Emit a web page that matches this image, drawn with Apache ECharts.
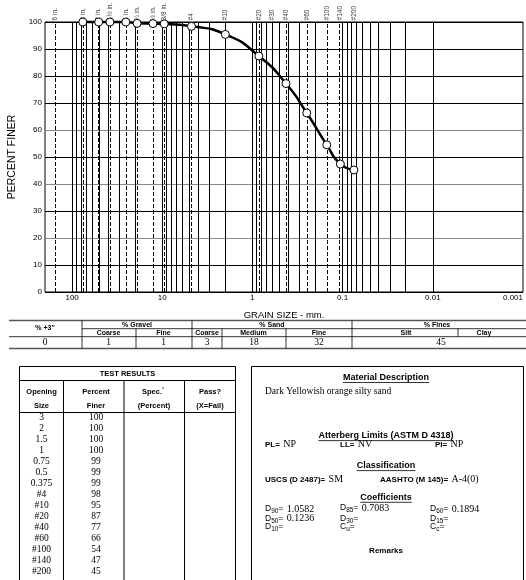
<!DOCTYPE html>
<html>
<head>
<meta charset="utf-8">
<script src="https://cdn.jsdelivr.net/npm/echarts@6/dist/echarts.min.js"></script>
<style>
  html, body { margin: 0; padding: 0; background: #fff; }
  #chart { width: 526px; height: 580px; }
</style>
</head>
<body>
<div id="chart"></div>
<script>
// sieve lines along the top (mm)
const sieveNames = ['6 in.', '3 in.', '2 in.', '1\u00bd in.', '1 in.', '\u00be in.', '\u00bd in.', '3/8 in.',
  '#4', '#10', '#20', '#30', '#40', '#60', '#100', '#140', '#200']
const sieveSizes = [152.4, 76.2, 50.8, 38.1, 25.4, 19.05, 12.7, 9.525, 4.75, 2.0, 0.85, 0.6, 0.425, 0.25, 0.15, 0.106, 0.075]

// test results
const testOpenings = ['3', '2', '1.5', '1', '0.75', '0.5', '0.375', '#4', '#10', '#20', '#40', '#60', '#100', '#140', '#200']
const testSizes = [76.2, 50.8, 38.1, 25.4, 19.05, 12.7, 9.525, 4.75, 2.0, 0.85, 0.425, 0.25, 0.15, 0.106, 0.075]
const curvePercent = [100, 100, 100, 100, 99.5, 99.4, 99.3, 98.4, 95.4, 87.4, 77.2, 66.3, 54.5, 47.4, 45.2]
const tablePercent = ['100', '100', '100', '100', '99', '99', '99', '98', '95', '87', '77', '66', '54', '47', '45']

// axis ticks
const xTickValues = [100, 10, 1, 0.1, 0.01, 0.001]
const xTickLabels = ['100', '10', '1', '0.1', '0.01', '0.001']
const gridDecades = [10, 1, 0.1, 0.01, 0.001]
const gridSteps = [1, 2, 3, 4, 5, 6, 7, 8, 9]

// grain size summary
const groupNames = ['% Gravel', '% Sand', '% Fines']
const subNames = ['Coarse', 'Fine', 'Coarse', 'Medium', 'Fine', 'Silt', 'Clay']
const sizeValues = ['0', '1', '1', '3', '18', '32', '45']

const SANS = '"Liberation Sans", Arial, sans-serif'
const SERIF = '"Liberation Serif", "Times New Roman", serif'

const gridLines = [100]
gridDecades.forEach(d => gridSteps.forEach(m => gridLines.push(d * m)))

const measureCtx = document.createElement('canvas').getContext('2d')
const measure = (t, f) => { measureCtx.font = f; return measureCtx.measureText(t).width }

const gfx = []
const hline = (x1, x2, y, w = 1, c = '#000') =>
  gfx.push({ type: 'line', silent: true, shape: { x1, y1: y, x2, y2: y }, style: { stroke: c, lineWidth: w } })
const vline = (x, y1, y2, w = 1, c = '#000') =>
  gfx.push({ type: 'line', silent: true, shape: { x1: x, y1, x2: x, y2 }, style: { stroke: c, lineWidth: w } })
const text = (x, y, t, font, align = 'center') =>
  gfx.push({ type: 'text', silent: true, x, y, style: { text: t, font, fill: '#000', align, verticalAlign: 'middle' } })
const rich = (x, y, t, richStyles) =>
  gfx.push({ type: 'text', silent: true, x, y, style: { text: t, fill: '#000', align: 'left', verticalAlign: 'middle', rich: richStyles } })

// grain size summary table
const H7 = 'bold 7px ' + SANS
hline(9, 526, 320.5, 1.5, '#555')
hline(82, 526, 328.7, 0.8)
hline(9, 526, 336.7, 0.8)
hline(9, 526, 348.5, 1.5, '#555')
vline(82, 320.5, 348.5, 0.8)
vline(192, 320.5, 348.5, 0.8)
vline(352, 320.5, 348.5, 0.8)
vline(136, 328.7, 348.5, 0.8)
vline(222, 328.7, 348.5, 0.8)
vline(286, 328.7, 348.5, 0.8)
vline(458, 328.7, 336.7, 0.8)
text(45, 328.5, '% +3"', H7)
const groupX = [137, 272, 437]
groupNames.forEach((g, i) => text(groupX[i], 324.7, g, H7))
const subX = [108.5, 163.5, 207, 253.5, 319, 406, 484]
subNames.forEach((s, i) => text(subX[i], 332.7, s, H7))
const valueX = [45, 108.5, 163.5, 207, 254, 319, 441]
sizeValues.forEach((v, i) => text(valueX[i], 342.8, v, '9.5px ' + SERIF))

// test results table
const H75 = 'bold 7.5px ' + SANS
gfx.push({ type: 'rect', silent: true, shape: { x: 19.5, y: 366.5, width: 216, height: 240 },
  style: { fill: 'none', stroke: '#000', lineWidth: 1 } })
hline(19.5, 235.5, 380.5)
hline(19.5, 235.5, 412.5)
;[63.5, 124, 184.5].forEach(x => vline(x, 380.5, 600))
text(127.5, 373.8, 'TEST RESULTS', H75)
const colX = [41.5, 96, 154, 210]
;['Opening', 'Percent', '', 'Pass?'].forEach((t, i) => t && text(colX[i], 391.7, t, H75))
rich(colX[2] - 12, 391.7, '{h|Spec.}{s|*}', {
  h: { font: H75, fill: '#000' },
  s: { font: '5px ' + SANS, fill: '#000', verticalAlign: 'top', padding: [0, 0, 4, 0] }
})
;['Size', 'Finer', '(Percent)', '(X=Fail)'].forEach((t, i) => text(colX[i], 405.7, t, H75))
testOpenings.forEach((t, i) => {
  text(colX[0], 417.5 + i * 11.03, t, '9.5px ' + SERIF)
  text(colX[1], 417.5 + i * 11.03, tablePercent[i], '9.5px ' + SERIF)
})

// material description box
gfx.push({ type: 'rect', silent: true, shape: { x: 251.5, y: 366.5, width: 272, height: 240 },
  style: { fill: 'none', stroke: '#000', lineWidth: 1 } })
const CX = 386
const heading = (t, y, u = true) => {
  const f = 'bold 9px ' + SANS
  text(CX, y, t, f)
  if (u) { const w = measure(t, f); hline(CX - w / 2, CX + w / 2, y + 4.8, 0.8) }
}
heading('Material Description', 377.7)
text(265, 391.7, 'Dark Yellowish orange silty sand', '9.5px ' + SERIF, 'left')
heading('Atterberg Limits (ASTM D 4318)', 435.8)
heading('Classification', 465.8)
heading('Coefficients', 497.5)
text(CX, 551, 'Remarks', 'bold 8px ' + SANS)

const rs = {
  b: { font: 'bold 8px ' + SANS, fill: '#000' },
  v: { font: '10px ' + SERIF, fill: '#000' },
  d: { font: '8.5px ' + SANS, fill: '#000' },
  s: { font: '6.5px ' + SANS, fill: '#000', verticalAlign: 'bottom', padding: [5, 0, 0, 0] }
}
rich(265, 444.5, '{b|PL=} {v|NP}', rs)
rich(340, 444.5, '{b|LL=} {v|NV}', rs)
rich(435, 444.5, '{b|PI=} {v|NP}', rs)
rich(265, 479.5, '{b|USCS (D 2487)=} {v|SM}', rs)
rich(380, 479.5, '{b|AASHTO (M 145)=} {v|A-4(0)}', rs)
rich(265, 509, '{d|D}{s|90}{d|=} {v|1.0582}', rs)
rich(340, 508, '{d|D}{s|85}{d|=} {v|0.7083}', rs)
rich(430, 509, '{d|D}{s|60}{d|=} {v|0.1894}', rs)
rich(265, 518.3, '{d|D}{s|50}{d|=} {v|0.1236}', rs)
rich(340, 518.3, '{d|D}{s|30}{d|=}', rs)
rich(430, 518.3, '{d|D}{s|15}{d|=}', rs)
rich(265, 527, '{d|D}{s|10}{d|=}', rs)
rich(340, 527, '{d|C}{s|u}{d|=}', rs)
rich(430, 527, '{d|C}{s|c}{d|=}', rs)

const chart = echarts.init(document.getElementById('chart'))

const option = {
  animation: false,
  backgroundColor: '#fff',
  grid: {
    left: 45, right: 3, top: 22, bottom: 288,
    show: true, borderColor: '#000', borderWidth: 1,
    outerBoundsMode: 'none'
  },
  xAxis: {
    type: 'log',
    logBase: 10,
    min: 0.001,
    max: 200,
    inverse: true,
    name: 'GRAIN SIZE - mm.',
    nameLocation: 'middle',
    nameGap: 18,
    nameTextStyle: { fontFamily: SANS, fontSize: 9.5, color: '#000' },
    axisLine: { show: false },
    axisTick: { show: false },
    splitLine: { show: false },
    axisLabel: {
      fontFamily: SANS,
      fontSize: 8,
      color: '#000',
      margin: 2,
      alignMinLabel: 'right',
      formatter: v => {
        const i = xTickValues.findIndex(t => Math.abs(v - t) < t * 1e-6)
        return i < 0 ? '' : xTickLabels[i]
      }
    }
  },
  yAxis: {
    type: 'value',
    min: 0,
    max: 100,
    interval: 10,
    name: 'PERCENT FINER',
    nameLocation: 'middle',
    nameGap: 26,
    nameTextStyle: { fontFamily: SANS, fontSize: 10.5, color: '#000' },
    axisLine: { show: false },
    axisTick: { show: false },
    axisLabel: { fontFamily: SANS, fontSize: 8, color: '#000', margin: 3 },
    splitLine: {
      lineStyle: {
        color: ['#000', '#000', '#888', '#000', '#888', '#000', '#888', '#000', '#000', '#000', '#000'],
        width: 1
      }
    }
  },
  series: [
    {
      name: 'grid',
      type: 'line',
      data: [],
      z: 1,
      markLine: {
        silent: true,
        symbol: ['none', 'none'],
        label: { show: false },
        lineStyle: { color: '#000', width: 1, type: 'solid' },
        emphasis: { disabled: true },
        data: gridLines.map(v => ({ xAxis: v }))
      }
    },
    {
      name: 'sieves',
      type: 'scatter',
      z: 2,
      clip: false,
      symbolSize: 0.1,
      itemStyle: { color: 'transparent' },
      data: sieveSizes.map(s => [s, 100]),
      label: {
        show: true,
        position: 'top',
        distance: 1.5,
        rotate: 90,
        align: 'left',
        verticalAlign: 'middle',
        fontFamily: SANS,
        fontSize: 6.5,
        color: '#000',
        formatter: p => sieveNames[p.dataIndex]
      },
      markLine: {
        silent: true,
        symbol: ['none', 'none'],
        label: { show: false },
        lineStyle: { color: '#000', width: 1, type: [4, 2] },
        emphasis: { disabled: true },
        data: sieveSizes.map(v => ({ xAxis: v }))
      }
    },
    {
      name: 'Percent Finer',
      type: 'line',
      z: 10,
      clip: false,
      smooth: 0.6,
      symbol: 'circle',
      symbolSize: 8,
      data: testSizes.map((s, i) => [s, curvePercent[i]]),
      lineStyle: { color: '#000', width: 2.5 },
      itemStyle: { color: '#fff', borderColor: '#000', borderWidth: 1 }
    }
  ],
  graphic: gfx
}

chart.setOption(option)
</script>
</body>
</html>
